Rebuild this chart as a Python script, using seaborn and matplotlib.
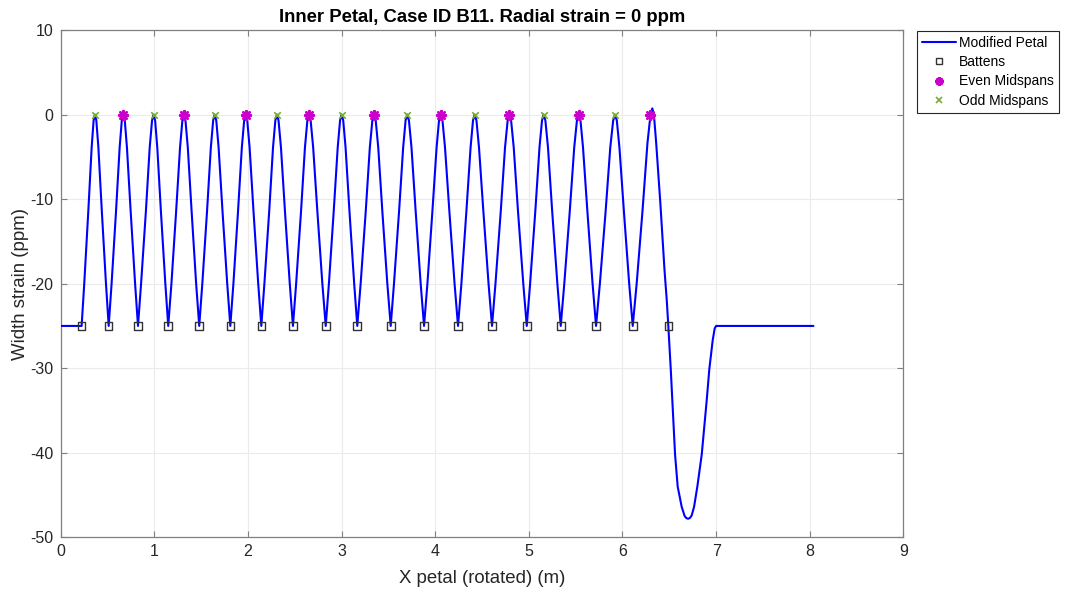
import matplotlib
matplotlib.use("Agg")
import matplotlib.pyplot as plt
from matplotlib.lines import Line2D
import seaborn as sns
import pandas as pd

# ---- data ----
batten_x = [0.224, 0.513, 0.826, 1.149, 1.480, 1.812, 2.143, 2.481, 2.831, 3.168,
            3.525, 3.881, 4.244, 4.607, 4.978, 5.341, 5.718, 6.110, 6.490]
batten_y = [-25.0] * 19

odd_mid_x = [0.366, 0.993, 1.645, 2.310, 3.001, 3.702, 4.422, 5.159, 5.921]
odd_mid_y = [0.0] * 9

even_mid_x = [0.669, 1.317, 1.976, 2.652, 3.347, 4.059, 4.792, 5.533, 6.295]
even_mid_y = [0.0] * 9

petal_x = [
    0.000, 0.224,
    0.252, 0.295, 0.331, 0.352, 0.366,   # H1 up
    0.381, 0.403, 0.440, 0.484, 0.513,   # H2 down
    0.544, 0.591, 0.630, 0.653, 0.669,   # H3
    0.685, 0.708, 0.748, 0.795, 0.826,   # H4
    0.859, 0.910, 0.951, 0.976, 0.993,   # H5
    1.009, 1.032, 1.071, 1.118, 1.149,   # H6
    1.183, 1.233, 1.275, 1.300, 1.317,   # H7
    1.333, 1.358, 1.399, 1.447, 1.480,   # H8
    1.513, 1.563, 1.604, 1.629, 1.645,   # H9
    1.662, 1.687, 1.729, 1.779, 1.812,   # H10
    1.845, 1.894, 1.935, 1.960, 1.976,   # H11
    1.993, 2.018, 2.060, 2.110, 2.143,   # H12
    2.176, 2.227, 2.268, 2.293, 2.310,   # H13
    2.327, 2.353, 2.396, 2.447, 2.481,   # H14
    2.515, 2.567, 2.609, 2.635, 2.652,   # H15
    2.670, 2.697, 2.742, 2.795, 2.831,   # H16
    2.865, 2.916, 2.959, 2.984, 3.001,   # H17
    3.018, 3.043, 3.085, 3.135, 3.168,   # H18
    3.204, 3.258, 3.302, 3.329, 3.347,   # H19
    3.365, 3.392, 3.436, 3.489, 3.525,   # H20
    3.560, 3.614, 3.658, 3.684, 3.702,   # H21
    3.720, 3.747, 3.792, 3.845, 3.881,   # H22
    3.917, 3.970, 4.015, 4.041, 4.059,   # H23
    4.078, 4.105, 4.152, 4.207, 4.244,   # H24
    4.280, 4.333, 4.378, 4.404, 4.422,   # H25
    4.441, 4.468, 4.515, 4.570, 4.607,   # H26
    4.644, 4.700, 4.746, 4.774, 4.792,   # H27
    4.811, 4.839, 4.885, 4.941, 4.978,   # H28
    5.014, 5.069, 5.114, 5.141, 5.159,   # H29
    5.177, 5.205, 5.250, 5.305, 5.341,   # H30
    5.379, 5.437, 5.485, 5.514, 5.533,   # H31
    5.552, 5.579, 5.626, 5.681, 5.718,   # H32
    5.759, 5.820, 5.870, 5.901, 5.921,   # H33
    5.940, 5.968, 6.016, 6.072, 6.110,   # H34
    6.152, 6.215, 6.267, 6.298, 6.319,   # H35
    6.336, 6.360, 6.405, 6.450, 6.473, 6.490,
    6.516, 6.562, 6.590, 6.633, 6.665, 6.685, 6.704, 6.722, 6.740, 6.765,
    6.800, 6.847, 6.900, 6.928, 6.964, 6.985, 7.000, 8.040,
]
petal_y = [
    -25.0, -25.0,
    -20.0, -11.5, -3.9, -0.7, 0.0,       # H1
    -0.7, -3.9, -11.5, -20.0, -25.0,     # H2
    -20.0, -11.5, -3.9, -0.7, 0.0,       # H3
    -0.7, -3.9, -11.5, -20.0, -25.0,     # H4
    -20.0, -11.5, -3.9, -0.7, 0.0,       # H5
    -0.7, -3.9, -11.5, -20.0, -25.0,     # H6
    -20.0, -11.5, -3.9, -0.7, 0.0,       # H7
    -0.7, -3.9, -11.5, -20.0, -25.0,     # H8
    -20.0, -11.5, -3.9, -0.7, 0.0,       # H9
    -0.7, -3.9, -11.5, -20.0, -25.0,     # H10
    -20.0, -11.5, -3.9, -0.7, 0.0,       # H11
    -0.7, -3.9, -11.5, -20.0, -25.0,     # H12
    -20.0, -11.5, -3.9, -0.7, 0.0,       # H13
    -0.7, -3.9, -11.5, -20.0, -25.0,     # H14
    -20.0, -11.5, -3.9, -0.7, 0.0,       # H15
    -0.7, -3.9, -11.5, -20.0, -25.0,     # H16
    -20.0, -11.5, -3.9, -0.7, 0.0,       # H17
    -0.7, -3.9, -11.5, -20.0, -25.0,     # H18
    -20.0, -11.5, -3.9, -0.7, 0.0,       # H19
    -0.7, -3.9, -11.5, -20.0, -25.0,     # H20
    -20.0, -11.5, -3.9, -0.7, 0.0,       # H21
    -0.7, -3.9, -11.5, -20.0, -25.0,     # H22
    -20.0, -11.5, -3.9, -0.7, 0.0,       # H23
    -0.7, -3.9, -11.5, -20.0, -25.0,     # H24
    -20.0, -11.5, -3.9, -0.7, 0.0,       # H25
    -0.7, -3.9, -11.5, -20.0, -25.0,     # H26
    -20.0, -11.5, -3.9, -0.7, 0.0,       # H27
    -0.7, -3.9, -11.5, -20.0, -25.0,     # H28
    -20.0, -11.5, -3.9, -0.7, 0.0,       # H29
    -0.7, -3.9, -11.5, -20.0, -25.0,     # H30
    -20.0, -11.5, -3.9, -0.7, 0.0,       # H31
    -0.7, -3.9, -11.5, -20.0, -25.0,     # H32
    -20.0, -11.5, -3.9, -0.7, 0.0,       # H33
    -0.7, -3.9, -11.5, -20.0, -25.0,     # H34
    -20.0, -11.3, -3.4, -0.2, 0.73,      # H35
    0.0, -3.3, -10.5, -18.5, -21.9, -25.0,
    -30.1, -40.2, -44.0, -46.4, -47.5, -47.75, -47.8, -47.7, -47.4, -46.4,
    -44.0, -40.2, -33.8, -30.1, -26.7, -25.3, -25.0, -25.0,
]
assert len(petal_x) == len(petal_y)

x_ticks = [0, 1, 2, 3, 4, 5, 6, 7, 8, 9]
y_ticks = [10, 0, -10, -20, -30, -40, -50]

title_text = "Inner Petal, Case ID B11. Radial strain = 0 ppm"
x_label = "X petal (rotated) (m)"
y_label = "Width strain (ppm)"
legend_labels = ["Modified Petal", "Battens", "Even Midspans", "Odd Midspans"]

# ---- style ----
sns.set_theme(style="whitegrid")
plt.rcParams["font.family"] = ["Liberation Sans", "DejaVu Sans"]
plt.rcParams["axes.unicode_minus"] = False

AX_COLOR = "#262626"
LINE_COLOR = "#0000FF"
EVEN_COLOR = "#CC00CC"
ODD_COLOR = "#77AC30"

fig = plt.figure(figsize=(10.66, 5.93), dpi=100)
ax = fig.add_axes([0.0569, 0.0939, 0.7905, 0.8555])
ax.set_facecolor("white")

df_line = pd.DataFrame({"x": petal_x, "y": petal_y})
sns.lineplot(data=df_line, x="x", y="y", sort=False, estimator=None,
             color=LINE_COLOR, linewidth=1.5, ax=ax, zorder=3)

df_b = pd.DataFrame({"x": batten_x, "y": batten_y})
sns.scatterplot(data=df_b, x="x", y="y", marker="s", s=30,
                facecolor="none", edgecolor="#333333", linewidth=1.0,
                ax=ax, zorder=4)

df_e = pd.DataFrame({"x": even_mid_x, "y": even_mid_y})
sns.scatterplot(data=df_e, x="x", y="y", marker=(8, 2, 0), s=40,
                color=EVEN_COLOR, linewidth=1.8, ax=ax, zorder=5)

df_o = pd.DataFrame({"x": odd_mid_x, "y": odd_mid_y})
sns.scatterplot(data=df_o, x="x", y="y", marker="x", s=22,
                color=ODD_COLOR, linewidth=1.2, ax=ax, zorder=5)

ax.set_xlim(0, 9)
ax.set_ylim(-50, 10)
ax.set_xticks(x_ticks)
ax.set_yticks(y_ticks)

ax.grid(True, color="#EBEBEB", linewidth=0.8)
for side in ["left", "right", "top", "bottom"]:
    ax.spines[side].set_visible(True)
    ax.spines[side].set_color("#808080")
    ax.spines[side].set_linewidth(0.9)

ax.tick_params(axis="both", which="both", direction="in", length=4,
               width=0.8, color="#808080", labelsize=11.5,
               labelcolor=AX_COLOR, top=True, right=True,
               bottom=True, left=True, pad=5)

ax.set_title(title_text, fontsize=13.3, fontweight="bold", color="black", pad=6)
ax.set_xlabel(x_label, fontsize=13.4, color=AX_COLOR, labelpad=8)
ax.set_ylabel(y_label, fontsize=13.4, color=AX_COLOR, labelpad=1)

handles = [
    Line2D([], [], color=LINE_COLOR, linewidth=1.5),
    Line2D([], [], linestyle="none", marker="s", markersize=5,
           markerfacecolor="none", markeredgecolor="#333333", markeredgewidth=1.0),
    Line2D([], [], linestyle="none", marker=(8, 2, 0), markersize=6,
           color=EVEN_COLOR, markeredgewidth=1.8),
    Line2D([], [], linestyle="none", marker="x", markersize=4.5,
           color=ODD_COLOR, markeredgewidth=1.2),
]
leg = fig.legend(handles, legend_labels, loc="upper left",
                 bbox_to_anchor=(0.8602, 0.9477), fontsize=10,
                 frameon=True, fancybox=False, framealpha=1,
                 edgecolor="#262626", handlelength=2.45, handletextpad=0.25,
                 borderpad=0.35, labelspacing=0.38, borderaxespad=0)
leg.get_frame().set_linewidth(0.8)
for t in leg.get_texts():
    t.set_color("black")

fig.savefig("out.png", dpi=100)
